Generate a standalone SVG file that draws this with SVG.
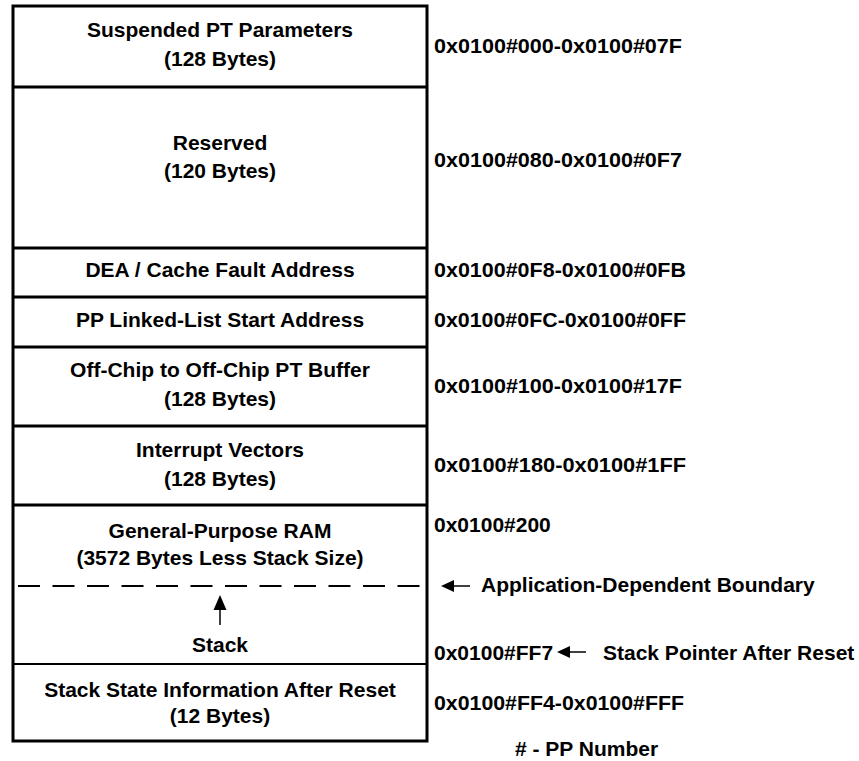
<svg xmlns="http://www.w3.org/2000/svg" width="859" height="761" viewBox="0 0 859 761">
<defs>
<style>
text{font-family:"Liberation Sans",Arial,Helvetica,sans-serif;font-weight:bold;font-size:21px;fill:#000}
.c{text-anchor:middle}
.sep{stroke:#000;stroke-width:3;fill:none}
.thin{stroke:#000;stroke-width:2;fill:none}
.dash{stroke:#000;stroke-width:2;fill:none;stroke-dasharray:22 12.5}
.ar{fill:#000;stroke:none}
.sh{stroke:#000;stroke-width:1.5}
</style>
</defs>
<rect width="859" height="761" fill="#fff"/>
<g id="frame">
<rect x="13" y="6" width="414" height="735" class="sep"/>
</g>
<g id="n-suspended">
<line x1="13" y1="87" x2="427" y2="87" class="sep"/>
<text x="220" y="37" class="c">Suspended PT Parameters</text>
<text x="220" y="66" class="c">(128 Bytes)</text>
<text x="434" y="53" textLength="248" lengthAdjust="spacingAndGlyphs">0x0100#000-0x0100#07F</text>
</g>
<g id="n-reserved">
<line x1="13" y1="248" x2="427" y2="248" class="sep"/>
<text x="220" y="150" class="c">Reserved</text>
<text x="220" y="178" class="c">(120 Bytes)</text>
<text x="434" y="167" textLength="248" lengthAdjust="spacingAndGlyphs">0x0100#080-0x0100#0F7</text>
</g>
<g id="n-dea">
<line x1="13" y1="297" x2="427" y2="297" class="sep"/>
<text x="220" y="277" class="c">DEA / Cache Fault Address</text>
<text x="434" y="277" textLength="252" lengthAdjust="spacingAndGlyphs">0x0100#0F8-0x0100#0FB</text>
</g>
<g id="n-pp">
<line x1="13" y1="347" x2="427" y2="347" class="sep"/>
<text x="220" y="327" class="c">PP Linked-List Start Address</text>
<text x="434" y="327" textLength="252" lengthAdjust="spacingAndGlyphs">0x0100#0FC-0x0100#0FF</text>
</g>
<g id="n-offchip">
<line x1="13" y1="426" x2="427" y2="426" class="sep"/>
<text x="220" y="377" class="c">Off-Chip to Off-Chip PT Buffer</text>
<text x="220" y="406" class="c">(128 Bytes)</text>
<text x="434" y="393" textLength="248" lengthAdjust="spacingAndGlyphs">0x0100#100-0x0100#17F</text>
</g>
<g id="n-interrupt">
<line x1="13" y1="505" x2="427" y2="505" class="sep"/>
<text x="220" y="457" class="c">Interrupt Vectors</text>
<text x="220" y="486" class="c">(128 Bytes)</text>
<text x="434" y="472" textLength="252" lengthAdjust="spacingAndGlyphs">0x0100#180-0x0100#1FF</text>
</g>
<g id="n-gpram">
<text x="220" y="538" class="c">General-Purpose RAM</text>
<text x="220" y="565" class="c">(3572 Bytes Less Stack Size)</text>
<text x="434" y="532">0x0100#200</text>
<line x1="14" y1="586" x2="426" y2="586" class="dash" stroke-dashoffset="-4"/>
<text x="481" y="592">Application-Dependent Boundary</text>
</g>
<g id="n-stack">
<line x1="13" y1="664" x2="427" y2="664" class="thin"/>
<text x="220" y="652" class="c">Stack</text>
<text x="434" y="660">0x0100#FF7</text>
<text x="603" y="660">Stack Pointer After Reset</text>
</g>
<g id="n-stackstate">
<text x="220" y="697" class="c">Stack State Information After Reset</text>
<text x="220" y="723" class="c">(12 Bytes)</text>
<text x="434" y="710" textLength="250" lengthAdjust="spacingAndGlyphs">0x0100#FF4-0x0100#FFF</text>
</g>
<g id="legend">
<text x="515" y="756"># - PP Number</text>
</g>
<g id="connectors">
<line x1="220" y1="608" x2="220" y2="625" class="sh"/>
<polygon points="220,595 213.5,610 226.5,610" class="ar"/>
<line x1="452" y1="586" x2="470" y2="586" class="sh"/>
<polygon points="441,586 454,580 454,592" class="ar"/>
<line x1="568" y1="652" x2="586" y2="652" class="sh"/>
<polygon points="557,652 570,646 570,658" class="ar"/>
</g>
</svg>
